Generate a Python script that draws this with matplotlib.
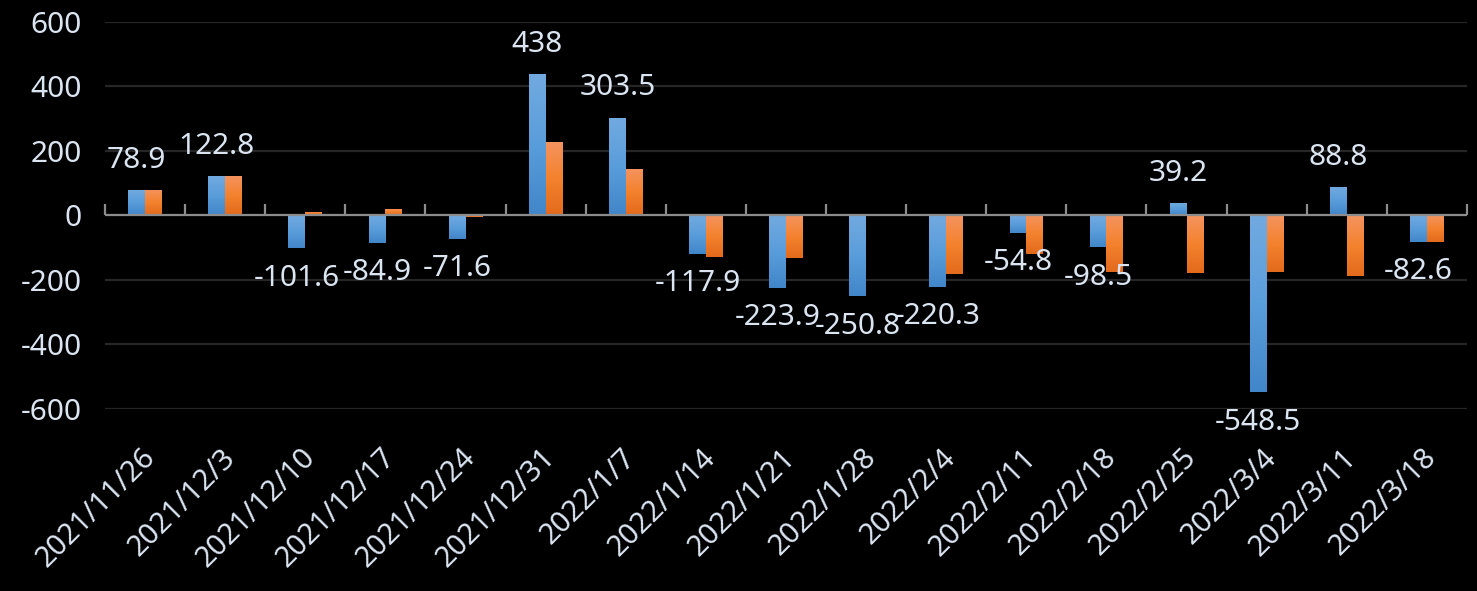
import matplotlib
matplotlib.use("Agg")
import matplotlib.pyplot as plt
from matplotlib.colors import LinearSegmentedColormap
import numpy as np

categories = ["2021/11/26", "2021/12/3", "2021/12/10", "2021/12/17", "2021/12/24",
              "2021/12/31", "2022/1/7", "2022/1/14", "2022/1/21", "2022/1/28",
              "2022/2/4", "2022/2/11", "2022/2/18", "2022/2/25", "2022/3/4",
              "2022/3/11", "2022/3/18"]
series_blue = [78.9, 122.8, -101.6, -84.9, -71.6, 438, 303.5, -117.9, -223.9, -250.8,
               -220.3, -54.8, -98.5, 39.2, -548.5, 88.8, -82.6]
series_orange = [79, 122.8, 11, 21, -5, 228, 144, -128, -132, 0,
                 -181, -121, -174, -178, -175, -187, -82.6]
yticks = [-600, -400, -200, 0, 200, 400, 600]

TXT = "#dbe5f1"
BLUE = "#5599d8"
ORANGE = "#f07e2a"
blue_cmap = LinearSegmentedColormap.from_list("b", ["#72aae0", "#5a9ddb", "#4186c9"])
orange_cmap = LinearSegmentedColormap.from_list("o", ["#f49460", "#f4822e", "#e26a1c"])
plt.rcParams['font.family'] = ['Noto Sans', 'DejaVu Sans']

fig = plt.figure(figsize=(14.77, 5.91), dpi=100, facecolor="black")
ax = fig.add_axes([0.0711, 0.308, 0.9221, 0.6548], facecolor="black")

x = np.arange(len(categories))
w = 0.21
bars_b = ax.bar(x - w / 2, series_blue, width=w, color=BLUE, zorder=3)
bars_o = ax.bar(x + w / 2, series_orange, width=w, color=ORANGE, zorder=3)

grad = np.linspace(0, 1, 256).reshape(-1, 1)
for bars, cmap in ((bars_b, blue_cmap), (bars_o, orange_cmap)):
    for p in bars:
        bb = p.get_bbox()
        lo, hi = min(bb.y0, bb.y1), max(bb.y0, bb.y1)
        if hi - lo == 0:
            continue
        im = ax.imshow(grad, extent=[min(bb.x0, bb.x1), max(bb.x0, bb.x1), lo, hi],
                       origin="upper", aspect="auto", cmap=cmap, zorder=3.2,
                       interpolation="bilinear")
        im.set_clip_path(p)

for xi, v in zip(x, series_blue):
    if v >= 0:
        ax.annotate(f"{v:g}", (xi - w / 2, v), xytext=(0, 11), textcoords="offset points",
                    ha="center", va="bottom", color=TXT, fontsize=21.5, zorder=5)
    else:
        ax.annotate(f"{v:g}", (xi - w / 2, v), xytext=(0, -11), textcoords="offset points",
                    ha="center", va="top", color=TXT, fontsize=21.5, zorder=5)

ax.set_xlim(-0.5, len(categories) - 0.5)
ax.set_ylim(-600, 600)
ax.set_yticks(yticks)
ax.set_yticklabels([str(t) for t in yticks], color=TXT, fontsize=21.5)
ax.tick_params(axis="y", length=0, pad=17)
for t in yticks:
    if t != 0:
        ax.axhline(t, color="#262626", lw=1.6, zorder=1)
ax.axhline(0, color="#8c8c8c", lw=1.6, zorder=4)

ax.set_xticks(x + 0.07)
ax.set_xticklabels(categories, rotation=45, ha="right", rotation_mode="anchor",
                   va="center", color=TXT, fontsize=21)
ax.tick_params(axis="x", length=0, pad=32)

# tick marks at category boundaries on the zero line
sec = ax.secondary_xaxis(0.5)
sec.set_xticks(np.arange(len(categories) + 1) - 0.5)
sec.set_xticklabels([])
sec.tick_params(axis="x", length=8, width=1.6, color="#8c8c8c", direction="out")
sec.spines["bottom"].set_visible(False)

for s in ax.spines.values():
    s.set_visible(False)

ax.set_xlim(-0.5, len(categories) - 0.5)
ax.set_ylim(-600, 600)

fig.savefig("out.png", dpi=100, facecolor="black")
